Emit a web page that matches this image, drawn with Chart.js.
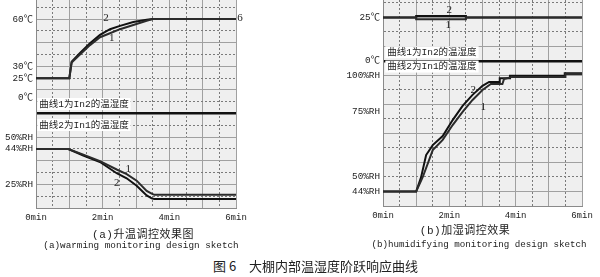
<!DOCTYPE html>
<html>
<head>
<meta charset="utf-8">
<script src="https://cdn.jsdelivr.net/npm/chart.js@4/dist/chart.umd.min.js"></script>
<style>
  body { margin: 0; background: #fff; width: 600px; height: 277px; position: relative; overflow: hidden; }
  canvas { position: absolute; top: 0; }
  .cap { position: absolute; white-space: nowrap; color: #222; line-height: 1;
         font-family: "Liberation Mono", "Noto Sans CJK SC", monospace; transform: translate(-50%, -50%); }
  .fig { position: absolute; white-space: nowrap; color: #222; line-height: 1; font-size: 13px;
         font-family: "Noto Sans CJK SC", sans-serif; transform: translateY(-50%); }
</style>
</head>
<body>
<canvas id="chartA" width="250" height="228" style="left:0"></canvas>
<canvas id="chartB" width="300" height="226" style="left:300px"></canvas>
<div class="cap" style="left:143px;top:235px;font-size:11px;letter-spacing:0.5px">(a)升温调控效果图</div>
<div class="cap" style="left:141px;top:246px;font-size:9.3px">(a)warming monitoring design sketch</div>
<div class="cap" style="left:465px;top:231px;font-size:11px;letter-spacing:0.5px">(b)加湿调控效果</div>
<div class="cap" style="left:479px;top:245px;font-size:9.2px">(b)humidifying monitoring design sketch</div>
<div class="fig" style="left:213px;top:265px">图 6</div>
<div class="fig" style="left:249px;top:265px">大棚内部温湿度阶跃响应曲线</div>
<script>
// (a) warming: time in min, temperature in ℃, humidity in %RH
const tempTimeA = [0, 1.0, 1.07, 1.32, 1.62, 1.92, 2.22, 2.52, 2.92, 3.32, 3.5, 6];
const tempA1 = [25, 25, 32.5, 37.5, 43.5, 48.5, 51, 53.6, 56.3, 59, 60, 60];
const tempA2 = [25, 25, 33, 38.5, 44.6, 50, 53.6, 55.7, 58.2, 59.6, 60, 60];
const humTimeA = [0, 0.97, 1.42, 1.92, 2.42, 2.72, 3.02, 3.32, 3.47, 3.55, 6];
const humA1 = [44, 44, 41, 37.5, 33, 30.5, 27, 21.5, 20, 19.4, 19.4];
const humA2 = [44, 44, 40.5, 37, 31, 28.3, 24.3, 19.1, 17.5, 17.2, 17.2];

// (b) humidifying
const tempTimeB = [0, 1.0, 1.0, 2.5, 2.5, 6];
const tempB1 = [25, 25, 23.9, 23.9, 25, 25];
const tempB2 = [25, 25, 25.8, 25.8, 25, 25];
const humTimeB1 = [0, 1.0, 1.2, 1.5, 1.8, 2.1, 2.4, 2.7, 3.0, 3.25, 3.6, 3.65, 3.9, 5.5, 5.5, 6];
const humB1 = [44, 44, 50, 60.3, 64.2, 69.9, 74.9, 83.1, 90, 94.1, 94.1, 97.6, 99, 99, 101, 101];
const humTimeB2 = [0, 1.0, 1.15, 1.3, 1.5, 1.8, 2.1, 2.4, 2.7, 3.0, 3.2, 3.52, 3.52, 3.83, 3.83, 5.48, 5.48, 6];
const humB2 = [44, 44, 50, 58.4, 62.2, 65.7, 71.8, 79, 86.6, 92.8, 95.5, 95.5, 98, 98, 99.7, 99.7, 101.5, 101.5];

// axis labels
const xLabelMinutes = [0, 2, 4, 6];
const tempLabelsA = [60, 30, 25, 0];
const humLabelsA = [50, 44, 25];
const tempLabelsB = [25, 0];
const humLabelsB = [100, 75, 50, 44];

// layout: grid rows where the labels sit (the original axis is schematic, not linear)
const layoutA = { id: 'chartA', axisWidth: 36, padRight: 14, top: 17.62, sep: 8, solidOdd: false,
  tempRows: [16, 12, 11, 9.35], humRows: [6, 5, 2] };
const layoutB = { id: 'chartB', axisWidth: 83, padRight: 18, top: 14.2, sep: 10, solidOdd: true,
  tempRows: [13, 10], humRows: [9, 6.5, 2, 1] };

function toRow(v, vals, rows) {
  const p = vals.map((val, i) => [val, rows[i]]).sort((a, b) => a[0] - b[0]);
  let i = 0;
  while (i < p.length - 2 && v > p[i + 1][0]) i++;
  const [v0, r0] = p[i], [v1, r1] = p[i + 1];
  return r0 + (v - v0) * (r1 - r0) / (v1 - v0);
}

function series(times, values, vals, rows) {
  return times.map((t, i) => ({ x: t, y: toRow(values[i], vals, rows) }));
}

const monoFont = '"Liberation Mono", "DejaVu Sans Mono", "Noto Sans CJK SC", monospace';

const notesPlugin = {
  id: 'notes',
  beforeDraw(chart) {
    const { ctx, chartArea: a } = chart;
    ctx.save();
    ctx.fillStyle = '#efefef';
    ctx.fillRect(a.left, a.top, a.right - a.left, a.bottom - a.top);
    ctx.restore();
  },
  afterDatasetsDraw(chart, args, opts) {
    const { ctx, scales: { x, y } } = chart;
    ctx.save();
    ctx.textBaseline = 'middle';
    (opts.boxes || []).forEach(b => {
      ctx.font = '9.5px ' + monoFont;
      const px = x.getPixelForValue(b.x), py = y.getPixelForValue(b.row);
      const w = ctx.measureText(b.text).width;
      ctx.fillStyle = '#fff';
      ctx.fillRect(px - 2, py - 6, w + 4, 12);
      ctx.fillStyle = '#222';
      ctx.textAlign = 'left';
      ctx.fillText(b.text, px, py);
    });
    (opts.marks || []).forEach(m => {
      ctx.font = '11px "Liberation Serif", serif';
      ctx.fillStyle = '#222';
      ctx.textAlign = 'center';
      ctx.fillText(m.text, x.getPixelForValue(m.x), y.getPixelForValue(m.row));
    });
    ctx.restore();
  }
};

function buildChart(lay, datasets, tempLabels, humLabels, notes) {
  const labelRows = [...lay.tempRows, ...lay.humRows];
  const labelText = [...tempLabels.map(v => v + '℃'), ...humLabels.map(v => v + '%RH')];
  const isGrid = v => Number.isInteger(v);
  const isSolid = v => (v % 2 === 1) === lay.solidOdd;

  new Chart(document.getElementById(lay.id), {
    type: 'line',
    data: {
      datasets: datasets.map((d, i) => ({
        data: d,
        borderColor: i % 2 ? '#111' : '#2b2b2b',
        borderWidth: 2,
        pointRadius: 0,
        tension: 0,
        fill: false
      }))
    },
    options: {
      responsive: false,
      animation: false,
      layout: { padding: { left: 0, right: lay.padRight, top: 0, bottom: 0 } },
      plugins: { legend: { display: false }, tooltip: { enabled: false }, notes },
      scales: {
        x: {
          type: 'linear', min: 0, max: 6,
          afterBuildTicks(scale) {
            scale.ticks = [];
            for (let m = 0; m <= 12; m++) scale.ticks.push({ value: m / 2 });
          },
          afterFit(scale) { scale.height = 20; scale.paddingLeft = 0; scale.paddingRight = 0; },
          ticks: {
            autoSkip: false, maxRotation: 0, padding: 4, color: '#222',
            font: { family: monoFont, size: 9 },
            callback: v => xLabelMinutes.includes(v) ? v + 'min' : ''
          },
          grid: {
            drawTicks: false, lineWidth: 1,
            color: c => c.tick && Number.isInteger(c.tick.value) ? '#a0a0a0' : '#7a7a7a'
          },
          border: {
            color: '#8a8a8a',
            dash: c => c.tick && !Number.isInteger(c.tick.value) ? [2, 2] : []
          }
        },
        y: {
          type: 'linear', min: 0, max: lay.top,
          afterBuildTicks(scale) {
            const vals = new Set();
            for (let r = 0; r <= Math.floor(lay.top); r++) vals.add(r);
            labelRows.forEach(r => vals.add(r));
            scale.ticks = [...vals].sort((a, b) => a - b).map(v => ({ value: v }));
          },
          afterFit(scale) { scale.width = lay.axisWidth; scale.paddingTop = 0; scale.paddingBottom = 0; },
          ticks: {
            autoSkip: false, padding: 3, color: '#222',
            font: { family: monoFont, size: 9.3 },
            callback: v => {
              const i = labelRows.indexOf(v);
              return i >= 0 ? labelText[i] : '';
            }
          },
          grid: {
            drawTicks: false,
            color: c => {
              if (!c.tick) return '#a0a0a0';
              const v = c.tick.value;
              if (v === lay.sep) return '#111';
              if (!isGrid(v)) return 'rgba(0,0,0,0)';
              return isSolid(v) ? '#a0a0a0' : '#7a7a7a';
            },
            lineWidth: c => c.tick && c.tick.value === lay.sep ? 2.5 : 1
          },
          border: {
            color: '#8a8a8a',
            dash: c => c.tick && isGrid(c.tick.value) && c.tick.value !== lay.sep && !isSolid(c.tick.value) ? [2, 2] : []
          }
        }
      }
    },
    plugins: [notesPlugin]
  });
}

const tA = [tempLabelsA, layoutA.tempRows], hA = [humLabelsA, layoutA.humRows];
buildChart(layoutA, [
  series(tempTimeA, tempA1, ...tA), series(tempTimeA, tempA2, ...tA),
  series(humTimeA, humA1, ...hA), series(humTimeA, humA2, ...hA)
], tempLabelsA, humLabelsA, {
  boxes: [{ text: '曲线1为In2的温湿度', x: 0.1, row: 8.81 }, { text: '曲线2为In1的温湿度', x: 0.1, row: 7.03 }],
  marks: [{ text: '2', x: 2.1, row: 16.1 }, { text: '1', x: 2.27, row: 14.38 }, { text: '6', x: 6.12, row: 16.08 },
          { text: '1', x: 2.77, row: 3.28 }, { text: '2', x: 2.42, row: 2.09 }]
});

const tB = [tempLabelsB, layoutB.tempRows], hB = [humLabelsB, layoutB.humRows];
buildChart(layoutB, [
  series(tempTimeB, tempB1, ...tB), series(tempTimeB, tempB2, ...tB),
  series(humTimeB1, humB1, ...hB), series(humTimeB2, humB2, ...hB)
], tempLabelsB, humLabelsB, {
  boxes: [{ text: '曲线1为In2的温湿度', x: 0.13, row: 10.6 }, { text: '曲线2为In1的温湿度', x: 0.13, row: 9.61 }],
  marks: [{ text: '2', x: 2.0, row: 13.47 }, { text: '1', x: 1.97, row: 12.48 },
          { text: '2', x: 2.72, row: 8.0 }, { text: '1', x: 3.02, row: 6.85 }]
});
</script>
</body>
</html>
